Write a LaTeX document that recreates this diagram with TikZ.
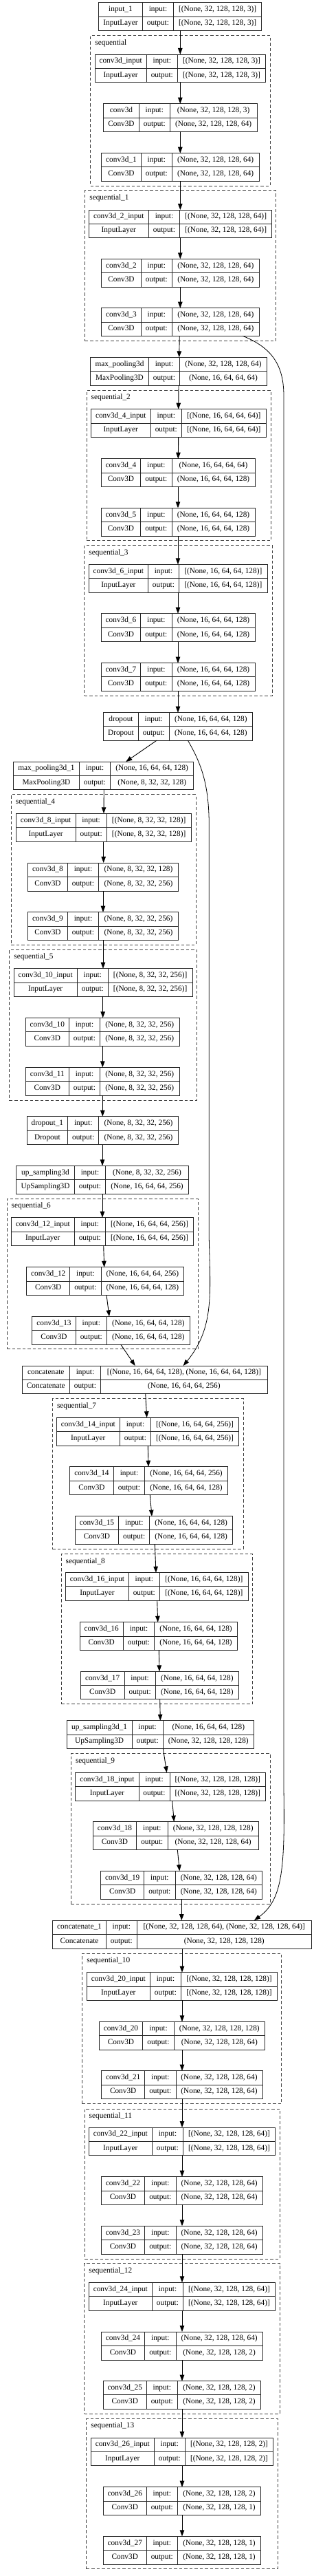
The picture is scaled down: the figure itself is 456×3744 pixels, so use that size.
\documentclass[tikz,border=0pt]{standalone}
\usepackage{fontspec}
\setmainfont{Liberation Serif}
\usetikzlibrary{fit,arrows.meta}
\tikzset{
  boxline/.style={draw=black!85, line width=0.9pt},
  txt/.style={font=\fontsize{11.3}{13}\selectfont, inner sep=0pt, text height=7.6pt, text depth=2.4pt},
  clusterbox/.style={draw=black!75, dash pattern=on 4.5pt off 3pt, line width=0.9pt},
  arr/.style={draw=black, line width=0.9pt, -{Triangle[length=9pt,width=6.5pt]}},
  skipline/.style={draw=black, line width=0.8pt, -{Triangle[length=9pt,width=6.5pt]}},
}
\def\lbparse#1,#2,#3,#4,#5,#6\relax{\def\lbxa{#1}\def\lbxb{#2}\def\lbxc{#3}\def\lbxd{#4}\def\lbyt{#5}\def\lbyb{#6}}
\def\clparse#1,#2,#3,#4\relax{\def\lbxa{#1}\def\lbyt{#2}\def\lbxd{#3}\def\lbyb{#4}}
\newcommand\lbox[6]{%
  \lbparse#2\relax
  \pgfmathsetmacro\lbym{-(\lbyt+\lbyb)/2}%
  \pgfmathsetmacro\lbyu{-(3*\lbyt+\lbyb)/4}%
  \pgfmathsetmacro\lbyl{-(\lbyt+3*\lbyb)/4}%
  \pgfmathsetmacro\lbca{(\lbxa+\lbxb)/2}%
  \pgfmathsetmacro\lbcb{(\lbxb+\lbxc)/2}%
  \pgfmathsetmacro\lbcc{(\lbxc+\lbxd)/2}%
  \node[boxline, fill=white, fit={(\lbxa,-\lbyt) (\lbxd,-\lbyb)}, inner sep=0pt, outer sep=0pt] (#1) {};
  \draw[boxline] (\lbxb,-\lbyt) -- (\lbxb,-\lbyb) (\lbxc,-\lbyt) -- (\lbxc,-\lbyb) (\lbxa,\lbym) -- (\lbxd,\lbym);
  \node[txt] (#1nm) at (\lbca,\lbyu) {#3};
  \node[txt] (#1ty) at (\lbca,\lbyl) {#4};
  \node[txt] (#1ik) at (\lbcb,\lbyu) {input:};
  \node[txt] (#1ok) at (\lbcb,\lbyl) {output:};
  \node[txt] (#1iv) at (\lbcc,\lbyu) {#5};
  \node[txt] (#1ov) at (\lbcc,\lbyl) {#6};
}
\newcommand\cluster[3]{%
  \clparse#2\relax
  \node[clusterbox, fit={(\lbxa,-\lbyt) (\lbxd,-\lbyb)}, inner sep=0pt, outer sep=0pt] (#1) {};
  \node[txt, anchor=west] (#1lab) at (\lbxa+6.5,-\lbyt-10.8) {#3};
}
\newcommand\conn[4]{\draw[arr] (#1.south -| #2,0) -- (#3.north -| #4,0);}
\begin{document}
\begin{tikzpicture}[x=1pt,y=1pt]
\fill[white] (0,0) rectangle (456,-3744);
\useasboundingbox (0,0) rectangle (456,-3744);
% clusters
\cluster{sA}{131.7,51.7,393.3,270}{sequential}
\cluster{sB}{123.7,276.7,401.3,495.7}{sequential\_1}
\cluster{sC}{126,567.3,394.3,785.7}{sequential\_2}
\cluster{sD}{122.7,792.7,396,1011}{sequential\_3}
\cluster{sE}{16.3,1154.7,285,1373.3}{sequential\_4}
\cluster{sF}{13.7,1380.3,286.3,1599}{sequential\_5}
\cluster{sG}{10,1742.3,288,1960.7}{sequential\_6}
\cluster{sH}{76.3,2032.7,354,2251}{sequential\_7}
\cluster{sI}{89,2258.7,367.3,2476.7}{sequential\_8}
\cluster{sJ}{103.3,2548.7,393.3,2767.3}{sequential\_9}
\cluster{sK}{119.7,2839.3,409.7,3057.7}{sequential\_10}
\cluster{sL}{123,3065,407.3,3283}{sequential\_11}
\cluster{sM}{122.7,3289.7,407.3,3508.3}{sequential\_12}
\cluster{sN}{125.7,3515.3,404.3,3733.7}{sequential\_13}
% layers
\lbox{inA}{143.7,207.3,252.7,380.7,3.7,44.3}{input\_1}{InputLayer}{[(None, 32, 128, 128, 3)]}{[(None, 32, 128, 128, 3)]}
\lbox{ciA}{138,213.3,258.3,386.7,79,119.7}{conv3d\_input}{InputLayer}{[(None, 32, 128, 128, 3)]}{[(None, 32, 128, 128, 3)]}
\lbox{cA}{150.7,202.3,247.3,374,150.7,191.3}{conv3d}{Conv3D}{(None, 32, 128, 128, 3)}{(None, 32, 128, 128, 64)}
\lbox{cB}{147.7,205.3,250.3,377,222.7,263}{conv3d\_1}{Conv3D}{(None, 32, 128, 128, 64)}{(None, 32, 128, 128, 64)}
\lbox{ciB}{129.3,216.3,261.7,395.7,305,345}{conv3d\_2\_input}{InputLayer}{[(None, 32, 128, 128, 64)]}{[(None, 32, 128, 128, 64)]}
\lbox{cC}{147.7,205.3,250.3,377.3,376.3,417}{conv3d\_2}{Conv3D}{(None, 32, 128, 128, 64)}{(None, 32, 128, 128, 64)}
\lbox{cD}{147.7,205.3,250.3,377.3,447.7,488.3}{conv3d\_3}{Conv3D}{(None, 32, 128, 128, 64)}{(None, 32, 128, 128, 64)}
\lbox{mpA}{131.7,216.3,261.7,388.3,519.3,560}{max\_pooling3d}{MaxPooling3D}{(None, 32, 128, 128, 64)}{(None, 16, 64, 64, 64)}
\lbox{ciC}{132.3,219.3,264.3,387.3,594.7,635.3}{conv3d\_4\_input}{InputLayer}{[(None, 16, 64, 64, 64)]}{[(None, 16, 64, 64, 64)]}
\lbox{cE}{147.3,204.7,250,371,666.7,707.3}{conv3d\_4}{Conv3D}{(None, 16, 64, 64, 64)}{(None, 16, 64, 64, 128)}
\lbox{cF}{147.3,204.7,250,371,738.3,779}{conv3d\_5}{Conv3D}{(None, 16, 64, 64, 128)}{(None, 16, 64, 64, 128)}
\lbox{ciD}{129,215.7,260.3,389.3,820.3,861}{conv3d\_6\_input}{InputLayer}{[(None, 16, 64, 64, 128)]}{[(None, 16, 64, 64, 128)]}
\lbox{cG}{147.3,204.7,250,371,891.7,932.7}{conv3d\_6}{Conv3D}{(None, 16, 64, 64, 128)}{(None, 16, 64, 64, 128)}
\lbox{cH}{147.3,204.7,250,371,963.7,1004}{conv3d\_7}{Conv3D}{(None, 16, 64, 64, 128)}{(None, 16, 64, 64, 128)}
\lbox{drA}{150.7,201.3,246.3,367.3,1035.7,1076}{dropout}{Dropout}{(None, 16, 64, 64, 128)}{(None, 16, 64, 64, 128)}
\lbox{mpB}{19.7,115.3,160.7,281.7,1107,1147.7}{max\_pooling3d\_1}{MaxPooling3D}{(None, 16, 64, 64, 128)}{(None, 8, 32, 32, 128)}
\lbox{ciE}{23.3,110,155.3,278,1182.3,1223.3}{conv3d\_8\_input}{InputLayer}{[(None, 8, 32, 32, 128)]}{[(None, 8, 32, 32, 128)]}
\lbox{cI}{40.7,98.3,143.7,259.3,1254,1295}{conv3d\_8}{Conv3D}{(None, 8, 32, 32, 128)}{(None, 8, 32, 32, 256)}
\lbox{cJ}{40.7,98.3,143.7,259.3,1325.7,1366.3}{conv3d\_9}{Conv3D}{(None, 8, 32, 32, 256)}{(None, 8, 32, 32, 256)}
\lbox{ciF}{20,112.3,157.3,280,1407.7,1448.3}{conv3d\_10\_input}{InputLayer}{[(None, 8, 32, 32, 256)]}{[(None, 8, 32, 32, 256)]}
\lbox{cK}{37.3,100.3,145.7,261,1479.3,1520}{conv3d\_10}{Conv3D}{(None, 8, 32, 32, 256)}{(None, 8, 32, 32, 256)}
\lbox{cL}{37.3,100.3,145.7,261,1551.3,1592}{conv3d\_11}{Conv3D}{(None, 8, 32, 32, 256)}{(None, 8, 32, 32, 256)}
\lbox{drB}{39,98.7,143.7,259.3,1622.7,1663.7}{dropout\_1}{Dropout}{(None, 8, 32, 32, 256)}{(None, 8, 32, 32, 256)}
\lbox{upA}{23.7,108.3,153.7,274.3,1694.3,1735}{up\_sampling3d}{UpSampling3D}{(None, 8, 32, 32, 256)}{(None, 16, 64, 64, 256)}
\lbox{ciG}{16.3,108.3,153.3,281.7,1769.7,1810.3}{conv3d\_12\_input}{InputLayer}{[(None, 16, 64, 64, 256)]}{[(None, 16, 64, 64, 256)]}
\lbox{cM}{38.7,101.7,147,267.7,1841.7,1882.3}{conv3d\_12}{Conv3D}{(None, 16, 64, 64, 256)}{(None, 16, 64, 64, 128)}
\lbox{cN}{46.7,110.3,155.3,276.3,1913.3,1954}{conv3d\_13}{Conv3D}{(None, 16, 64, 64, 128)}{(None, 16, 64, 64, 128)}
\lbox{catA}{32.3,101.3,146.7,389,1985,2025.3}{concatenate}{Concatenate}{[(None, 16, 64, 64, 128), (None, 16, 64, 64, 128)]}{(None, 16, 64, 64, 256)}
\lbox{ciH}{82.3,174.3,219.7,347.3,2060.3,2101}{conv3d\_14\_input}{InputLayer}{[(None, 16, 64, 64, 256)]}{[(None, 16, 64, 64, 256)]}
\lbox{cO}{101.7,165.3,210.7,331.3,2131.7,2172.7}{conv3d\_14}{Conv3D}{(None, 16, 64, 64, 256)}{(None, 16, 64, 64, 128)}
\lbox{cP}{109.3,172.7,217.7,338.7,2203.7,2244}{conv3d\_15}{Conv3D}{(None, 16, 64, 64, 128)}{(None, 16, 64, 64, 128)}
\lbox{ciI}{95.7,187.3,232.3,361.3,2285.7,2326}{conv3d\_16\_input}{InputLayer}{[(None, 16, 64, 64, 128)]}{[(None, 16, 64, 64, 128)]}
\lbox{cQ}{116,179.3,224.7,345.3,2357.7,2398.3}{conv3d\_16}{Conv3D}{(None, 16, 64, 64, 128)}{(None, 16, 64, 64, 128)}
\lbox{cR}{117.3,181,226.3,347.3,2429.3,2469.7}{conv3d\_17}{Conv3D}{(None, 16, 64, 64, 128)}{(None, 16, 64, 64, 128)}
\lbox{upB}{97.3,192,237.3,369.3,2500.7,2541.3}{up\_sampling3d\_1}{UpSampling3D}{(None, 16, 64, 64, 128)}{(None, 32, 128, 128, 128)}
\lbox{ciJ}{109.7,202,247,386.7,2576.3,2617}{conv3d\_18\_input}{InputLayer}{[(None, 32, 128, 128, 128)]}{[(None, 32, 128, 128, 128)]}
\lbox{cS}{135.3,198.7,244,376.3,2647.7,2688.3}{conv3d\_18}{Conv3D}{(None, 32, 128, 128, 128)}{(None, 32, 128, 128, 64)}
\lbox{cT}{146.7,209.7,255,381.7,2719.3,2760}{conv3d\_19}{Conv3D}{(None, 32, 128, 128, 64)}{(None, 32, 128, 128, 64)}
\lbox{catB}{76.7,154.3,199.3,453.3,2791,2832}{concatenate\_1}{Concatenate}{[(None, 32, 128, 128, 64), (None, 32, 128, 128, 64)]}{(None, 32, 128, 128, 128)}
\lbox{ciK}{126.3,218.3,263.7,403.3,2866.7,2907.3}{conv3d\_20\_input}{InputLayer}{[(None, 32, 128, 128, 128)]}{[(None, 32, 128, 128, 128)]}
\lbox{cU}{144.3,207.7,253.3,385.3,2938.3,2979}{conv3d\_20}{Conv3D}{(None, 32, 128, 128, 128)}{(None, 32, 128, 128, 64)}
\lbox{cV}{147.7,210.7,256,382,3009.7,3050.3}{conv3d\_21}{Conv3D}{(None, 32, 128, 128, 64)}{(None, 32, 128, 128, 64)}
\lbox{ciL}{129.3,221.3,266.7,400.3,3092,3132.7}{conv3d\_22\_input}{InputLayer}{[(None, 32, 128, 128, 64)]}{[(None, 32, 128, 128, 64)]}
\lbox{cW}{147.3,210.7,256,382.3,3163.7,3204.3}{conv3d\_22}{Conv3D}{(None, 32, 128, 128, 64)}{(None, 32, 128, 128, 64)}
\lbox{cX}{147.3,210.7,256,382.3,3235.3,3276}{conv3d\_23}{Conv3D}{(None, 32, 128, 128, 64)}{(None, 32, 128, 128, 64)}
\lbox{ciM}{129.3,221.3,266.7,400.3,3317.3,3358}{conv3d\_24\_input}{InputLayer}{[(None, 32, 128, 128, 64)]}{[(None, 32, 128, 128, 64)]}
\lbox{cY}{147.3,210.7,256,382.3,3389,3430}{conv3d\_24}{Conv3D}{(None, 32, 128, 128, 64)}{(None, 32, 128, 128, 2)}
\lbox{cZ}{150.3,213.3,258.3,379.7,3460.7,3501}{conv3d\_25}{Conv3D}{(None, 32, 128, 128, 2)}{(None, 32, 128, 128, 2)}
\lbox{ciN}{132.3,224.3,269.3,397.7,3543,3583.7}{conv3d\_26\_input}{InputLayer}{[(None, 32, 128, 128, 2)]}{[(None, 32, 128, 128, 2)]}
\lbox{cAA}{150.3,213.3,258.3,379.7,3614.7,3655.3}{conv3d\_26}{Conv3D}{(None, 32, 128, 128, 2)}{(None, 32, 128, 128, 1)}
\lbox{cAB}{150.3,213.3,258.3,379.7,3686.3,3727}{conv3d\_27}{Conv3D}{(None, 32, 128, 128, 1)}{(None, 32, 128, 128, 1)}
% connectors
\conn{inA}{262.3}{ciA}{262.3}
\conn{ciA}{262.3}{cA}{262.3}
\conn{cA}{262.3}{cB}{262.3}
\conn{cB}{262.3}{ciB}{262.3}
\conn{ciB}{262.3}{cC}{262.3}
\conn{cC}{262.3}{cD}{262.3}
\conn{cD}{261.3}{mpA}{260.7}
\conn{mpA}{260}{ciC}{259.7}
\conn{ciC}{259.7}{cE}{259.3}
\conn{cE}{259}{cF}{259}
\conn{cF}{259}{ciD}{259}
\conn{ciD}{259}{cG}{259}
\conn{cG}{259}{cH}{259}
\conn{cH}{259}{drA}{259}
\conn{drA}{228.3}{mpB}{183.3}
\conn{mpB}{151.3}{ciE}{151}
\conn{ciE}{150.7}{cI}{150.7}
\conn{cI}{150}{cJ}{150}
\conn{cJ}{150}{ciF}{150}
\conn{ciF}{149.7}{cK}{149.7}
\conn{cK}{149.3}{cL}{149.3}
\conn{cL}{149.3}{drB}{149.3}
\conn{drB}{149}{upA}{149}
\conn{upA}{149}{ciG}{149}
\conn{ciG}{150.7}{cM}{151.7}
\conn{cM}{155}{cN}{159}
\conn{cN}{175.7}{catA}{196.7}
\conn{catA}{211.7}{ciH}{213.7}
\conn{ciH}{215.3}{cO}{216}
\conn{cO}{218.3}{cP}{221}
\conn{cP}{225.3}{ciI}{227}
\conn{ciI}{228.7}{cQ}{229.7}
\conn{cQ}{231.3}{cR}{232}
\conn{cR}{232.7}{upB}{233.3}
\conn{upB}{237.3}{ciJ}{242.7}
\conn{ciJ}{250.7}{cS}{253.3}
\conn{cS}{258.3}{cT}{261.3}
\conn{cT}{264.3}{catB}{264.3}
\conn{catB}{265}{ciK}{265}
\conn{ciK}{265}{cU}{265}
\conn{cU}{265}{cV}{265}
\conn{cV}{265}{ciL}{265}
\conn{ciL}{265}{cW}{265}
\conn{cW}{265}{cX}{265}
\conn{cX}{265}{ciM}{265}
\conn{ciM}{265}{cY}{265}
\conn{cY}{265}{cZ}{265}
\conn{cZ}{265}{ciN}{265}
\conn{ciN}{265}{cAA}{265}
\conn{cAA}{265}{cAB}{265}
% skip connections
\draw[skipline] (cD.south -| 353.3,0) .. controls (395,-505) and (413,-530) .. (413,-575)
  -- (413,-2600) .. controls (415,-2720) and (410,-2762) .. (catB.north -| 370,0);
\draw[skipline] (drA.south -| 273.3,0) .. controls (293,-1110) and (304.3,-1140) .. (304.3,-1200)
  -- (304.3,-1800) .. controls (306,-1880) and (312,-1930) .. (catA.north -| 266.7,0);
\end{tikzpicture}
\end{document}
